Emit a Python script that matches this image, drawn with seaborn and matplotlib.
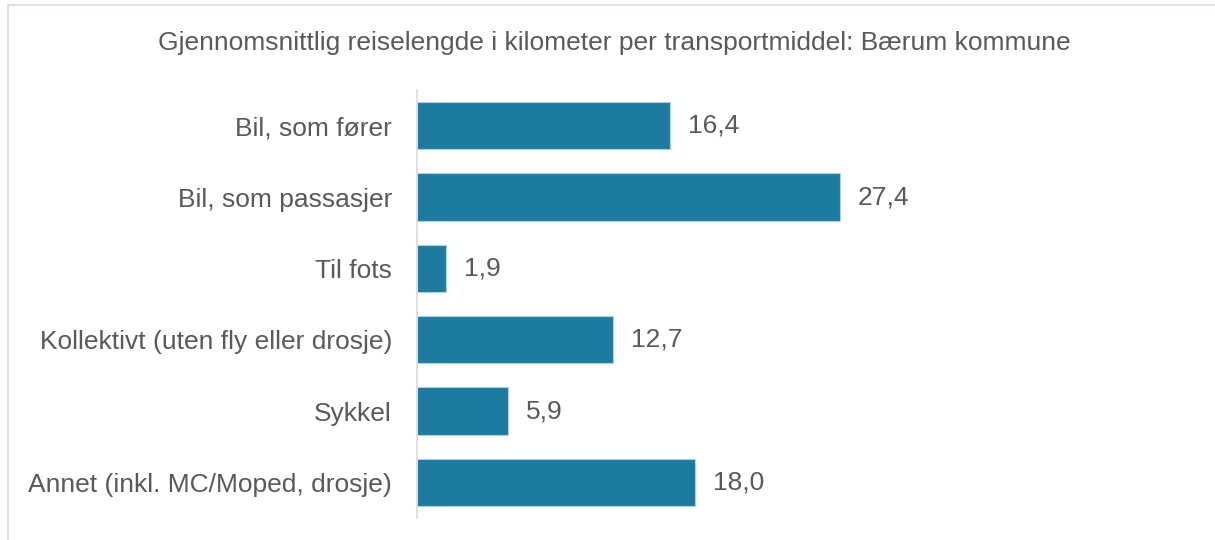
import numpy as np
import pandas as pd
import seaborn as sns
from matplotlib import pyplot as plt
from matplotlib.lines import Line2D

# chart data
categories = ['Bil, som fører', 'Bil, som passasjer', 'Til fots',
              'Kollektivt (uten fly eller drosje)', 'Sykkel',
              'Annet (inkl. MC/Moped, drosje)']
km = [16.4, 27.4, 1.9, 12.7, 5.9, 18.0]
title = 'Gjennomsnittlig reiselengde i kilometer per transportmiddel: Bærum kommune'

sns.set_style('white')
plt.rcParams['font.family'] = ['Liberation Sans', 'DejaVu Sans']

text_col = '#595959'
bar_col = '#1D7BA1'
line_col = '#E3D7DC'

df = pd.DataFrame({'kategori': categories, 'km': km})

fig = plt.figure(figsize=(12.15, 5.4), dpi=100)
ax = fig.add_axes([417 / 1215, 22 / 540, 463 / 1215, 428 / 540])

sns.barplot(data=df, x='km', y='kategori', order=categories, color=bar_col,
            saturation=1, width=0.66, edgecolor='#A9D3E6', linewidth=0.8, ax=ax)

ax.set_xlim(0, 30)
ax.set_ylim(5.5, -0.5)
ax.set_xlabel('')
ax.set_ylabel('')
ax.set_xticks([])
ax.tick_params(axis='y', length=0, pad=18, labelsize=19, labelcolor=text_col)
for side in ['top', 'right', 'bottom']:
    ax.spines[side].set_visible(False)
ax.spines['left'].set_color(line_col)
ax.spines['left'].set_linewidth(1.2)

# value labels with comma decimals
for i, v in enumerate(km):
    ax.annotate(f'{v:.1f}'.replace('.', ','), xy=(v, i), xytext=(13, 0),
                textcoords='offset points', va='center', ha='left',
                fontsize=19, color=text_col)

fig.text(614 / 1215, 1 - 43 / 540, title, ha='center', va='center',
         fontsize=19, color=text_col)

# thin outer frame (top and left)
fig.add_artist(Line2D([8 / 1215, 1], [1 - 5 / 540, 1 - 5 / 540],
                      transform=fig.transFigure, color=line_col, lw=1.2))
fig.add_artist(Line2D([8 / 1215, 8 / 1215], [0, 1 - 5 / 540],
                      transform=fig.transFigure, color=line_col, lw=1.2))

fig.savefig('out.png', dpi=100, facecolor='white')
